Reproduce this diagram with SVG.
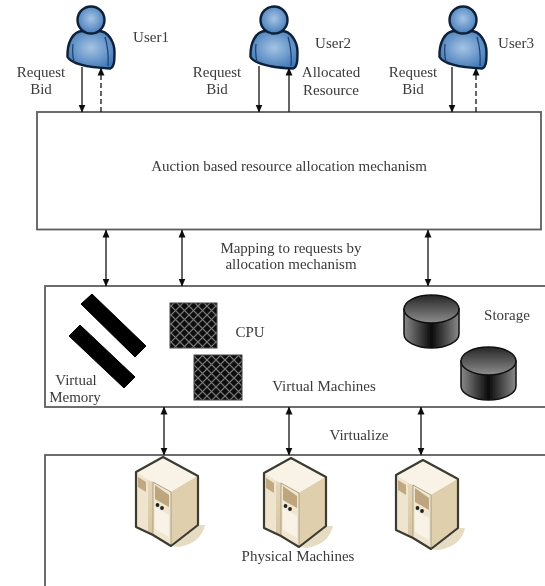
<svg xmlns="http://www.w3.org/2000/svg" width="545" height="586" viewBox="0 0 545 586">
<style>
text{font-family:"Liberation Serif","Times New Roman",serif;font-size:15px;fill:#3a3a3a;text-anchor:middle}
.box{fill:#fff;stroke:#5c5c5c;stroke-width:1.8}
.c{fill:none;stroke:#222;stroke-width:1.4}
.d{stroke-dasharray:5 3}
.uo{stroke:#0f2038;stroke-width:2.400;stroke-linejoin:round}
</style>
<defs>
<filter id="soft" x="-2%" y="-2%" width="104%" height="104%"><feGaussianBlur stdDeviation="0.65"/></filter>
<marker id="a" viewBox="0 0 8 8" refX="7.500" refY="4" markerWidth="8" markerHeight="9" markerUnits="userSpaceOnUse" orient="auto-start-reverse"><path d="M0 0.5L8 4L0 7.500z" fill="#111"/></marker>
<radialGradient id="ub" cx="50%" cy="45%" r="60%"><stop offset="0" stop-color="#a6c4e4"/><stop offset="1" stop-color="#3f78b8"/></radialGradient>
<pattern id="mesh" width="9" height="9" patternUnits="userSpaceOnUse"><rect width="9" height="9" fill="#111"/><path d="M0 0L9 9M9 0L0 9" stroke="#7c7c7c" stroke-width="1.200"/></pattern>
<linearGradient id="dside" x1="0" x2="1" y1="0" y2="0"><stop offset="0" stop-color="#8a8a8a"/><stop offset=".5" stop-color="#0a0a0a"/><stop offset="1" stop-color="#8a8a8a"/></linearGradient>
<linearGradient id="dtop" x1="0" x2="0" y1="0" y2="1"><stop offset="0" stop-color="#262626"/><stop offset="1" stop-color="#8e8e8e"/></linearGradient>
<linearGradient id="sside" x1="0" x2="1" y1="0" y2="1"><stop offset="0" stop-color="#efe3c9"/><stop offset="1" stop-color="#c4ad84"/></linearGradient>
<symbol id="user" overflow="visible">
<path d="M-8 31C-19 31 -24 44 -23.500 57C-20 63 -5 67.500 19 68.500C23.500 67 23.500 60 23.500 52C23.500 42 17 31 8 31Z" fill="url(#ub)" class="uo"/>
<path d="M-18 44Q-19 54 -17 62M14 37Q18 50 17 66" fill="none" stroke="#1d3f6d" stroke-width="1.200"/>
<circle cx="0" cy="20" r="13.500" fill="url(#ub)" class="uo"/>
</symbol>
<symbol id="disk" overflow="visible">
<path d="M0 14V39A27.500 14 0 0 0 55 39V14z" fill="url(#dside)" stroke="#111" stroke-width="1.500"/>
<ellipse cx="27.500" cy="14" rx="27.500" ry="14" fill="url(#dtop)" stroke="#111" stroke-width="1.500"/>
</symbol>
<symbol id="server" overflow="visible">
<path d="M8 89L35 68L42 68Q38 86 16 90z" fill="#e6dcc4"/>
<path d="M0 0L35 19V68L8 89L-10 78L-27 70V15z" fill="url(#sside)"/>
<path d="M0 0L35 19L8 35L-10 25L-15 23L-27 15z" fill="#f8f3e6"/>
<path d="M8 35L35 19V68L8 89z" fill="#e0cfac"/>
<path d="M-27 15L-15 23V76L-27 70z" fill="#efe5cf"/>
<path d="M-10 25L8 35V89L-10 78z" fill="#f0e6d0" stroke="#9c947e" stroke-width="0.800"/>
<path d="M-25 20L-17 25V35L-25 30z" fill="#c2a882"/>
<path d="M-8 28L6 38V50L-8 42z" fill="#bfa57e"/>
<path d="M-8 50L6 58V80L-8 72z" fill="#f8f3e6"/>
<circle cx="-5.500" cy="48" r="1.900" fill="#222"/><circle cx="-1" cy="51" r="1.900" fill="#222"/>
<path d="M0 0L35 19V68L8 89L-10 78L-27 70V15z" fill="none" stroke="#3b3b33" stroke-width="2.200" stroke-linejoin="round"/>
</symbol>
</defs>
<g filter="url(#soft)">
<g id="auction"><rect class="box" x="37" y="112" width="504" height="117.500"/><text x="289" y="171">Auction based resource allocation mechanism</text></g>
<g id="virtual-machines"><rect class="box" x="45" y="286" width="510" height="121"/><text x="324" y="391">Virtual Machines</text></g>
<g id="physical-machines"><rect class="box" x="45" y="455" width="510" height="140"/></g>
<g id="user1"><use href="#user" x="91" y="0"/><text x="151" y="42">User1</text></g>
<g id="user2"><use href="#user" x="274" y="0"/><text x="333" y="48">User2</text></g>
<g id="user3"><use href="#user" x="463" y="0"/><text x="516" y="48">User3</text></g>
<g id="memory"><path d="M92 294L81 304L135 357L146 346z M80 325L69 336L124 388L135 377z" fill="#000" stroke="#000" stroke-width="1" stroke-linejoin="round"/><text x="76" y="385">Virtual</text><text x="75" y="402">Memory</text></g>
<g id="cpu"><rect x="170" y="303" width="47" height="45" fill="url(#mesh)" stroke="#444"/><rect x="194" y="355" width="48" height="45" fill="url(#mesh)" stroke="#444"/><text x="250" y="337">CPU</text></g>
<g id="storage"><use href="#disk" x="404" y="295"/><use href="#disk" x="461" y="347"/><text x="507" y="320">Storage</text></g>
<g id="server1"><use href="#server" x="163" y="457"/></g>
<g id="server2"><use href="#server" x="291" y="458"/></g>
<g id="server3"><use href="#server" x="423" y="460"/></g>
<text x="298" y="561">Physical Machines</text>
<g id="connectors">
<path class="c" d="M82 67V112" marker-end="url(#a)"/>
<path class="c d" d="M101 112V68" marker-end="url(#a)"/>
<path class="c" d="M259 66V112" marker-end="url(#a)"/>
<path class="c" d="M289 112V68" marker-end="url(#a)"/>
<path class="c" d="M452 67V112" marker-end="url(#a)"/>
<path class="c d" d="M476 112V68" marker-end="url(#a)"/>
<path class="c" d="M106 230V286" marker-start="url(#a)" marker-end="url(#a)"/>
<path class="c" d="M182 230V286" marker-start="url(#a)" marker-end="url(#a)"/>
<path class="c" d="M428 230V286" marker-start="url(#a)" marker-end="url(#a)"/>
<path class="c" d="M164 407V455" marker-start="url(#a)" marker-end="url(#a)"/>
<path class="c" d="M289 407V455" marker-start="url(#a)" marker-end="url(#a)"/>
<path class="c" d="M421 407V455" marker-start="url(#a)" marker-end="url(#a)"/>
</g>
<g id="labels">
<text x="41" y="77">Request</text><text x="41" y="94">Bid</text>
<text x="217" y="77">Request</text><text x="217" y="94">Bid</text>
<text x="413" y="77">Request</text><text x="413" y="94">Bid</text>
<text x="331" y="77">Allocated</text><text x="331" y="95">Resource</text>
<text x="291" y="253">Mapping to requests by</text><text x="291" y="269">allocation mechanism</text>
<text x="359" y="440">Virtualize</text>
</g>
</g>
</svg>
